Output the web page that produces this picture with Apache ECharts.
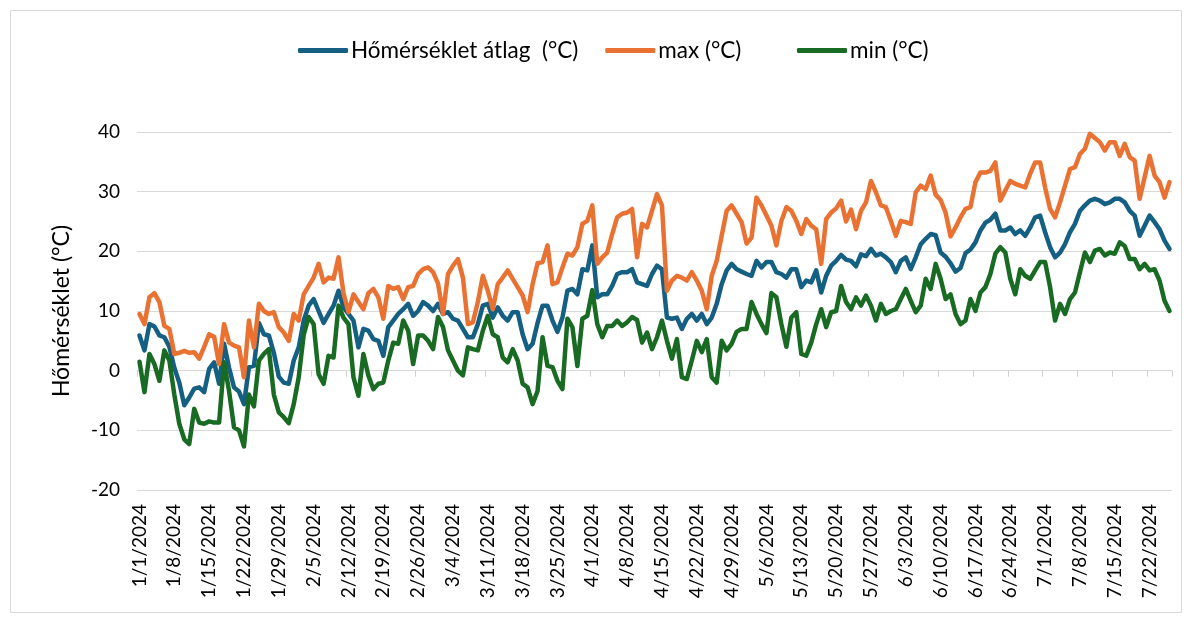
<!DOCTYPE html>
<html>
<head>
<meta charset="utf-8">
<script src="https://cdn.jsdelivr.net/npm/echarts@6/dist/echarts.min.js"></script>
<style>
  body { margin: 0; background: #fff; }
  #chart { width: 1187px; height: 619px; }
</style>
</head>
<body>
<div id="chart"></div>
<script>
// napi átlag, max, min hőmérséklet (°C), 2024.01.01 - 2024.07.26
var avgTemp = [
  5.9, 3.4, 7.8, 7.4, 5.9, 5.6, 4, 0.5, -2, -5.8, -4.5, -3, -2.8, -3.6, 0.3, 1.4, -2.2, 4.5, 0.5, -2.8,
  -3.5, -5.6, 0.6, 0.8, 8, 6.1, 5.9, 3, -1, -2, -2.2, 1.7, 3.9, 8.4, 10.9, 12, 10, 8, 9.5, 10.9,
  13.4, 10.6, 9.5, 8.4, 3.9, 7, 6.7, 5.3, 5, 2.5, 7.3, 8.4, 9.5, 10.3, 11.2, 9.2, 10, 11.5, 10.9, 10,
  11.2, 9.5, 9.8, 8.7, 8.4, 7, 5.6, 5.6, 7.8, 10.9, 11.2, 8.9, 10.6, 9.2, 8.4, 9.8, 9.8, 6.1, 3.6, 4.5,
  8, 10.9, 10.9, 8.4, 6.5, 8.9, 13.4, 13.7, 12.8, 17, 16.8, 21, 12.3, 12.8, 12.8, 14.2, 16.2, 16.5, 16.5, 17,
  14.8, 14.5, 14.2, 16.2, 17.6, 17, 8.9, 8.7, 8.9, 7, 8.7, 9.5, 8.4, 9.5, 7.8, 8.9, 11.2, 14.5, 16.8, 17.9,
  17, 16.6, 16.2, 15.9, 18.4, 17.3, 18.2, 18.2, 16.5, 16.2, 15.6, 17, 17, 14, 15.1, 14.8, 16.8, 13.1, 15.9, 17.6,
  18.4, 19.4, 18.6, 18.4, 17.5, 19.5, 19.2, 20.4, 19.3, 19.6, 19, 18.2, 16.5, 18.4, 19, 17, 19, 21.2, 22.1, 22.9,
  22.7, 19.8, 19.1, 18, 16.6, 17.2, 19.7, 20.3, 21.5, 23.5, 24.8, 25.3, 26.3, 23.5, 23.5, 24, 22.9, 23.5, 22.6, 24,
  25.7, 26, 23.2, 20.7, 19, 19.8, 21.2, 23.2, 24.6, 26.8, 27.7, 28.5, 28.8, 28.5, 27.9, 28.2, 28.8, 28.8, 28.2, 26.8,
  26, 22.6, 24.3, 26, 24.9, 23.7, 21.8, 20.4
];
var maxTemp = [
  9.5, 7.8, 12.3, 13, 11.5, 7.5, 7, 2.8, 3, 3.3, 3, 3.1, 2, 4, 6.1, 5.7, 1.1, 7.8, 4.7, 4.2,
  3.9, -1.1, 8.4, 3.9, 11.2, 10, 9.5, 9.8, 7.3, 6.4, 5, 9.5, 8.4, 12.8, 14.2, 15.6, 17.9, 14.8, 15.6, 15.4,
  19, 13, 9.8, 12.8, 11.5, 10.3, 13, 13.7, 12.3, 8.7, 14.2, 13.7, 14, 12, 14, 14.2, 16.2, 17, 17.3, 16.5,
  14.6, 9.5, 16.2, 17.6, 18.7, 15.6, 7.8, 8.1, 11.5, 15.9, 13.4, 10.3, 14.5, 15.6, 16.8, 15.4, 14, 12.6, 9.8, 14.5,
  18, 18.2, 21, 14.5, 14.8, 17.3, 19.6, 19.3, 20.7, 24.6, 25.1, 27.7, 17.9, 19, 19.8, 22.9, 25.7, 26.3, 26.5, 27.1,
  19, 24.6, 24, 26.8, 29.6, 27.7, 13.4, 15.1, 15.9, 15.6, 15.1, 16.5, 15.1, 13.4, 10.3, 15.9, 18.4, 22.6, 26.8, 27.7,
  26.3, 24.9, 21.3, 22.3, 29, 27.7, 26, 24.3, 21, 25.1, 27.4, 26.8, 25.1, 22.9, 25.4, 24.3, 23.7, 17.9, 25.4, 26.5,
  27.2, 28.5, 25, 27, 23.7, 26.8, 28.2, 31.8, 29.9, 27.7, 27.4, 25.1, 22.6, 25.1, 24.9, 24.6, 29.9, 31, 30.4, 32.7,
  29.5, 28.6, 26.5, 22.5, 24, 25.7, 27.1, 27.4, 31.6, 33.2, 33.2, 33.5, 34.9, 28.5, 30.2, 31.8, 31.3, 31, 30.7, 33,
  34.9, 34.9, 30.7, 27.1, 25.7, 28.2, 31, 33.8, 34.1, 36.3, 37.2, 39.7, 39, 38.3, 36.9, 38.3, 38.3, 36, 38, 35.8,
  35.2, 28.8, 32.4, 36, 32.7, 31.6, 29, 31.6
];
var minTemp = [
  1.5, -3.6, 2.8, 1.1, -1.7, 3.4, 1.7, -4, -8.9, -11.5, -12.3, -6.4, -8.7, -8.9, -8.5, -8.7, -8.7, 1.4, -3.4, -9.5,
  -10, -12.7, -4, -6, 1.7, 2.8, 3.6, -4, -7, -7.8, -8.8, -5.6, -1.1, 6, 9, 7.8, -0.6, -2.2, 2.5, 2.2,
  10.9, 8.9, 7.8, -1.1, -4.2, 2.8, -0.8, -3.1, -2.2, -2, 1.7, 4.7, 4.5, 8.4, 6.7, 1.1, 5.9, 5.9, 5, 3.6,
  9, 7.3, 3.4, 1.7, 0, -0.8, 3.9, 3.6, 3.4, 6.7, 9.2, 6.1, 5.6, 2.2, 1.4, 3.6, 1.7, -2.2, -2.8, -5.6,
  -3.4, 5.6, 0.8, 0.6, -1.7, -3.1, 8.7, 7.3, 0.8, 8.7, 9.2, 13.5, 7.8, 5.6, 7.5, 7.5, 8.4, 7.5, 8.1, 9,
  8.5, 4.7, 6.4, 3.6, 5.6, 8.4, 5, 2, 5.3, -1.1, -1.4, 1.7, 5, 3.1, 5.3, -1.1, -2, 5, 3.4, 4.5,
  6.5, 7, 7, 11.5, 9.5, 7.8, 6.3, 13, 12.3, 7.8, 4, 8.9, 9.8, 2.8, 2.5, 4.7, 7.8, 10.3, 7.3, 9.8,
  10, 14.2, 11.5, 10.3, 12.3, 10.9, 12.6, 10.9, 8.4, 11.2, 9.5, 10, 10.3, 12, 13.7, 11.7, 9.8, 10.9, 15.4, 13.7,
  17.9, 15.4, 12, 12.8, 9.5, 7.8, 8.4, 12, 10, 13.1, 14, 16.2, 19.6, 20.7, 19.8, 15.4, 12.8, 17, 15.9, 15.4,
  16.8, 18.2, 18.2, 14, 8.4, 11.2, 9.5, 12, 13.1, 16.5, 19.8, 18.2, 20.1, 20.4, 19.3, 19.8, 19.6, 21.5, 20.9, 18.7,
  18.7, 17, 17.9, 16.8, 17, 15.1, 11.7, 10
];

// dátum címkék (hó/nap/év)
var dates = [];
for (var i = 0; i < avgTemp.length; i++) {
  var d = new Date(2024, 0, 1 + i);
  dates.push((d.getMonth() + 1) + '/' + d.getDate() + '/' + d.getFullYear());
}

var seriesNames = ['Hőmérséklet átlag  (°C)', 'max (°C)', 'min (°C)'];
var seriesColors = ['#156082', '#E97132', '#196B24'];
var font = 'Lato, "Open Sans", sans-serif';

function legendAt(left, names) {
  return {
    top: 34,
    left: left,
    itemGap: 27,
    itemWidth: 50,
    itemHeight: 5,
    icon: 'roundRect',
    textStyle: { fontSize: 22.5, color: '#000', fontFamily: font, padding: [0, 0, 0, -2] },
    data: names
  };
}

var chart = echarts.init(document.getElementById('chart'));
chart.setOption({
  animation: false,
  textStyle: { fontFamily: font },
  graphic: [{
    type: 'rect',
    left: 8, top: 8,
    shape: { width: 1171, height: 602 },
    style: { fill: 'none', stroke: '#d9d9d9', lineWidth: 1 },
    silent: true
  }],
  legend: [
    legendAt(293, seriesNames.slice(0, 2)),
    legendAt(792, seriesNames.slice(2))
  ],
  grid: {
    left: 137,
    right: 15,
    top: 132,
    bottom: 129
  },
  xAxis: [{
    type: 'category',
    data: dates,
    boundaryGap: true,
    position: 'bottom',
    axisLine: { show: false, onZero: false },
    axisTick: { show: false },
    axisLabel: {
      interval: 6,
      rotate: 90,
      margin: 14,
      fontSize: 19,
      color: '#000',
      fontFamily: font
    },
    splitLine: { show: false }
  }, {
    // tengely a 0 vonalon, csak osztásjelekkel
    type: 'category',
    data: dates,
    boundaryGap: true,
    position: 'bottom',
    offset: -119.3,
    axisLine: { show: true, onZero: false, lineStyle: { color: '#d9d9d9', width: 1 } },
    axisTick: { show: true, interval: 6, length: 6, lineStyle: { color: '#d0d0d0' } },
    axisLabel: { show: false },
    splitLine: { show: false }
  }],
  yAxis: {
    type: 'value',
    min: -20,
    max: 40,
    interval: 10,
    name: 'Hőmérséklet (°C)',
    nameLocation: 'middle',
    nameGap: 64,
    nameTextStyle: { fontSize: 23, color: '#000', fontFamily: font },
    axisLine: { show: false },
    axisTick: { show: false },
    axisLabel: { fontSize: 19, color: '#000', margin: 17, fontFamily: font },
    splitLine: { lineStyle: { color: '#d9d9d9', width: 1 } }
  },
  series: seriesNames.map(function (name, k) {
    return {
      name: name,
      type: 'line',
      xAxisIndex: 0,
      data: [avgTemp, maxTemp, minTemp][k],
      symbol: 'none',
      smooth: false,
      lineStyle: { width: 4.5, color: seriesColors[k], join: 'round', cap: 'round' },
      itemStyle: { color: seriesColors[k] }
    };
  })
});
</script>
</body>
</html>
